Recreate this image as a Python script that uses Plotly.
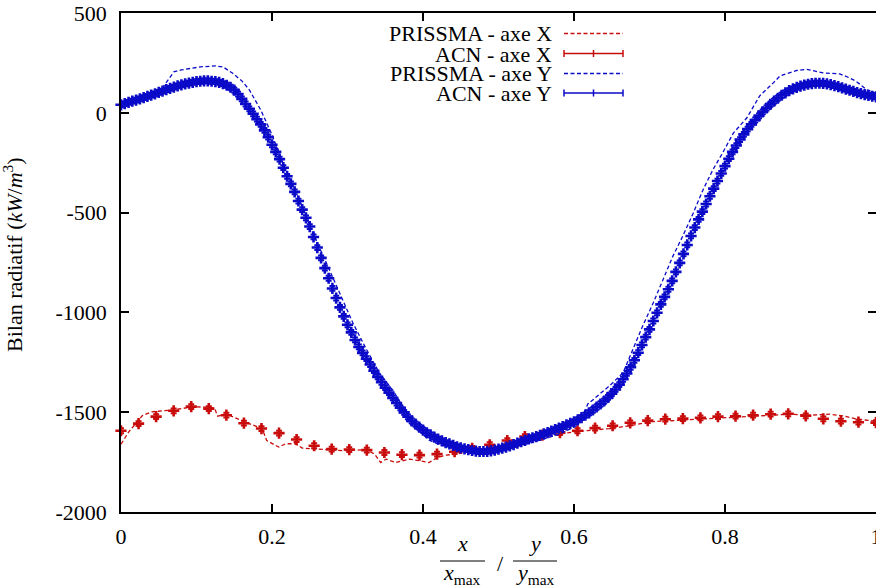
import numpy as np
import plotly.graph_objects as go

# ---------------- data ----------------
# PRISSMA - axe X (red dashed)
prissma_x_x = [0.000, 0.010, 0.028, 0.041, 0.070, 0.095, 0.118, 0.124, 0.128, 0.139,
               0.160, 0.187, 0.193, 0.209, 0.218, 0.231, 0.240, 0.258, 0.293, 0.325,
               0.336, 0.344, 0.351, 0.364, 0.382, 0.395, 0.408, 0.419, 0.431, 0.444,
               0.466, 0.488, 0.515, 0.541, 0.568, 0.594, 0.616, 0.647, 0.674, 0.700,
               0.727, 0.753, 0.780, 0.806, 0.833, 0.859, 0.886, 0.912, 0.939, 0.956,
               0.975, 1.000]
prissma_x_y = [-1660, -1600, -1518, -1498, -1488, -1473, -1475, -1480, -1520, -1508,
               -1542, -1583, -1642, -1675, -1658, -1658, -1680, -1685, -1693, -1688,
               -1710, -1752, -1735, -1752, -1735, -1743, -1752, -1727, -1715, -1710,
               -1693, -1677, -1660, -1635, -1618, -1602, -1593, -1582, -1568, -1548,
               -1543, -1538, -1532, -1527, -1522, -1515, -1510, -1515, -1510, -1518,
               -1535, -1545]

# ACN - axe X (red, points with error bars), 44 evenly spaced cells
acn_x_y = [-1593, -1557, -1522, -1493, -1472, -1482, -1515, -1555, -1582, -1605,
           -1637, -1668, -1685, -1687, -1690, -1702, -1713, -1715, -1710, -1698,
           -1681, -1663, -1642, -1622, -1615, -1602, -1593, -1580, -1568, -1553,
           -1542, -1535, -1532, -1528, -1522, -1520, -1515, -1510, -1508, -1518,
           -1533, -1545, -1550, -1552]
acn_x_x = np.linspace(0, 1, len(acn_x_y))

# PRISSMA - axe Y (blue dashed)
prissma_y_x = [0.000, 0.025, 0.050, 0.060, 0.070, 0.080, 0.095, 0.105, 0.125, 0.135,
               0.148, 0.160, 0.170, 0.185, 0.200, 0.218, 0.236, 0.254, 0.272, 0.289,
               0.307, 0.325, 0.342, 0.360, 0.372, 0.391, 0.408, 0.426, 0.448, 0.470,
               0.492, 0.515, 0.537, 0.559, 0.581, 0.603, 0.612, 0.618, 0.630, 0.647,
               0.665, 0.678, 0.691, 0.705, 0.718, 0.731, 0.744, 0.758, 0.771, 0.784,
               0.797, 0.811, 0.829, 0.846, 0.864, 0.873, 0.895, 0.908, 0.930, 0.952,
               0.965, 0.974, 0.988, 1.000]
prissma_y_y = [40, 72, 100, 150, 205, 215, 223, 230, 235, 230,
               198, 160, 115, 15, -110, -285, -435, -602, -752, -902,
               -1052, -1185, -1302, -1390, -1465, -1580, -1640, -1668, -1685, -1698,
               -1693, -1677, -1660, -1635, -1610, -1568, -1530, -1460, -1420, -1368,
               -1302, -1185, -1068, -952, -835, -718, -618, -502, -385, -285,
               -200, -102, -25, 85, 150, 185, 212, 218, 200, 195,
               175, 157, 115, 98]

# ACN - axe Y (blue, points with error bars), 201 evenly spaced cells
acn_y_y = [40, 46, 52, 58, 64, 70, 76, 82, 89, 95,
           102, 109, 116, 122, 129, 135, 140, 145, 149, 152,
           156, 158, 160, 160, 158, 156, 152, 146, 138, 128,
           114, 94, 70, 44, 20, -5, -32, -58, -88, -122,
           -160, -196, -232, -275, -318, -356, -396, -442, -485, -526,
           -570, -622, -675, -727, -778, -829, -880, -928, -975, -1020,
           -1062, -1100, -1138, -1173, -1203, -1232, -1261, -1292, -1323, -1350,
           -1377, -1402, -1428, -1454, -1478, -1501, -1523, -1543, -1560, -1575,
           -1590, -1603, -1614, -1625, -1635, -1644, -1652, -1659, -1666, -1673,
           -1679, -1684, -1688, -1692, -1695, -1697, -1697, -1696, -1694, -1690,
           -1685, -1680, -1675, -1669, -1662, -1655, -1648, -1641, -1634, -1628,
           -1622, -1616, -1609, -1602, -1595, -1587, -1580, -1572, -1564, -1556,
           -1548, -1538, -1527, -1515, -1503, -1489, -1474, -1459, -1444, -1426,
           -1407, -1386, -1362, -1335, -1306, -1275, -1240, -1202, -1163, -1124,
           -1085, -1043, -1002, -960, -922, -884, -842, -797, -752, -707,
           -662, -617, -575, -534, -495, -457, -418, -380, -342, -304,
           -267, -230, -196, -164, -134, -108, -82, -58, -36, -15,
           5, 24, 42, 58, 73, 88, 100, 111, 120, 127,
           134, 139, 143, 146, 148, 148, 147, 145, 141, 136,
           131, 125, 119, 113, 107, 101, 96, 91, 87, 83,
           80]
acn_y_x = np.linspace(0, 1, len(acn_y_y))

x_tick_vals = [0, 0.2, 0.4, 0.6, 0.8, 1.0]
x_tick_text = ["0", "0.2", "0.4", "0.6", "0.8", "1"]
y_tick_vals = [-2000, -1500, -1000, -500, 0, 500]
y_tick_text = ["-2000", "-1500", "-1000", "-500", "0", "500"]

series_names = ["PRISSMA - axe X", "ACN - axe X", "PRISSMA - axe Y", "ACN - axe Y"]

# ---------------- styling ----------------
RED = "#c80c0c"
BLUE = "#0a0ac8"
FONT = "Liberation Serif"
FS = 22
DASH = "4px,2.5px"

W, H = 876, 587
L, R, T, B = 121, 0, 13, 75


def fx(px):
    return (px - L) / (W - L - R)


def fy(py):
    return (H - B - py) / (H - T - B)


def tfont(size=FS):
    return dict(family=FONT, size=size, color="black")


fig = go.Figure()

fig.add_trace(go.Scatter(x=prissma_x_x, y=prissma_x_y, mode="lines", name=series_names[0],
                         line=dict(color=RED, width=1.3, dash=DASH)))
fig.add_trace(go.Scatter(x=acn_x_x, y=acn_x_y, mode="markers", name=series_names[1],
                         marker=dict(symbol="cross-thin", size=8, color=RED,
                                     line=dict(width=2.6, color=RED)),
                         error_y=dict(type="constant", value=12, width=3, thickness=2, color=RED),
                         cliponaxis=False))
fig.add_trace(go.Scatter(x=prissma_y_x, y=prissma_y_y, mode="lines", name=series_names[2],
                         line=dict(color=BLUE, width=1.3, dash=DASH)))
fig.add_trace(go.Scatter(x=acn_y_x, y=acn_y_y, mode="markers", name=series_names[3],
                         marker=dict(symbol="cross-thin", size=8, color=BLUE,
                                     line=dict(width=2.6, color=BLUE)),
                         error_y=dict(type="constant", value=12, width=3, thickness=2, color=BLUE),
                         cliponaxis=False))

axis_common = dict(showline=True, linewidth=1.5, linecolor="black", mirror="ticks",
                   ticks="inside", ticklen=8, tickwidth=1.5, tickcolor="black",
                   showgrid=False, zeroline=False, automargin=False,
                   ticklabeloverflow="allow", tickfont=tfont())

fig.update_layout(
    template="none",
    width=W, height=H,
    margin=dict(l=L, r=R, t=T, b=B, pad=0),
    paper_bgcolor="white", plot_bgcolor="white",
    showlegend=False,
    font=tfont(),
    xaxis=dict(range=[0, 1], tickmode="array", tickvals=x_tick_vals, ticktext=x_tick_text,
               ticklabelstandoff=4, **axis_common),
    yaxis=dict(range=[-2000, 500], tickmode="array", tickvals=y_tick_vals, ticktext=y_tick_text,
               ticklabelstandoff=8, **axis_common),
)

annotations = []
shapes = []

# custom legend (text right-aligned, sample on the right, gnuplot style)
rows_py = [33.5, 53.5, 73.5, 93]
colors = [RED, RED, BLUE, BLUE]
for i, (name, py, c) in enumerate(zip(series_names, rows_py, colors)):
    annotations.append(dict(x=fx(553), y=fy(py), xref="paper", yref="paper", text=name,
                            showarrow=False, xanchor="right", yanchor="middle",
                            height=18, borderpad=0, valign="middle", font=tfont()))
    if i % 2 == 0:
        shapes.append(dict(type="line", xref="paper", yref="paper", x0=fx(564), x1=fx(623),
                           y0=fy(py), y1=fy(py), line=dict(color=c, width=1.3, dash=DASH)))
    else:
        shapes.append(dict(type="line", xref="paper", yref="paper", x0=fx(564), x1=fx(623),
                           y0=fy(py), y1=fy(py), line=dict(color=c, width=1.5)))
        for tx in (564, 593.5, 623):
            shapes.append(dict(type="line", xref="paper", yref="paper", x0=fx(tx), x1=fx(tx),
                               y0=fy(py - 3.5), y1=fy(py + 3.5), line=dict(color=c, width=1.5)))

# y-axis title
annotations.append(dict(x=fx(13), y=fy(255), xref="paper", yref="paper",
                        text="Bilan radiatif (<i>kW</i>/<i>m</i><sup>3</sup>)",
                        textangle=-90, showarrow=False, xanchor="center", yanchor="middle",
                        font=tfont()))


# x-axis title: x/x_max  /  y/y_max
def frac(cx, num, den):
    annotations.append(dict(x=fx(cx), y=fy(543), xref="paper", yref="paper", text=num,
                            showarrow=False, xanchor="center", yanchor="middle",
                            borderpad=0, font=tfont()))
    annotations.append(dict(x=fx(cx), y=fy(574), xref="paper", yref="paper", text=den,
                            showarrow=False, xanchor="center", yanchor="middle",
                            borderpad=0, font=tfont()))


frac(462, "<i>x</i>", "<i>x</i><sub>max</sub>")
frac(535, "<i>y</i>", "<i>y</i><sub>max</sub>")
shapes.append(dict(type="line", xref="paper", yref="paper", x0=fx(440), x1=fx(485),
                   y0=fy(561), y1=fy(561), line=dict(color="black", width=1.2)))
shapes.append(dict(type="line", xref="paper", yref="paper", x0=fx(513), x1=fx(557),
                   y0=fy(561), y1=fy(561), line=dict(color="black", width=1.2)))
annotations.append(dict(x=fx(500), y=fy(563), xref="paper", yref="paper", text="/",
                        showarrow=False, xanchor="center", yanchor="middle",
                        borderpad=0, font=tfont()))

fig.update_layout(annotations=annotations, shapes=shapes)

fig.write_html("out.html",
               config={"displayModeBar": False},
               post_script="document.body.style.margin='0';"
                           "document.body.style.overflow='hidden';")
